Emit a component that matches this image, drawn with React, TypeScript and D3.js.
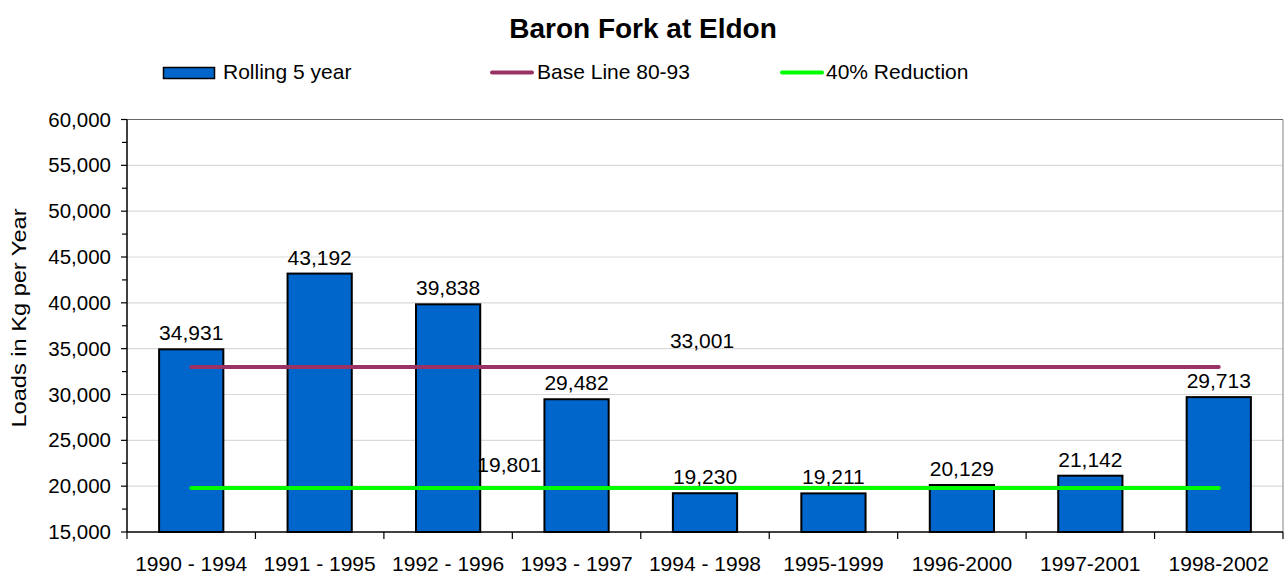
import { useMemo } from "react";
import * as d3 from "d3";

const WIDTH = 1288;
const HEIGHT = 578;
const MARGIN = { top: 119.5, right: 5, bottom: 46, left: 127 };

const categories = [
  "1990 - 1994",
  "1991 - 1995",
  "1992 - 1996",
  "1993 - 1997",
  "1994 - 1998",
  "1995-1999",
  "1996-2000",
  "1997-2001",
  "1998-2002",
];
const rollingValues = [34931, 43192, 39838, 29482, 19230, 19211, 20129, 21142, 29713];
const baseLineValues = [33001, 33001, 33001, 33001, 33001, 33001, 33001, 33001, 33001];
const reductionValues = [19801, 19801, 19801, 19801, 19801, 19801, 19801, 19801, 19801];
const yTicks = [15000, 20000, 25000, 30000, 35000, 40000, 45000, 50000, 55000, 60000];
const yMinorTicks = [17500, 22500, 27500, 32500, 37500, 42500, 47500, 52500, 57500];

const BAR_COLOR = "#0066CC";
const BASE_COLOR = "#993366";
const REDUCTION_COLOR = "#00FF00";
const FONT = "'Liberation Sans', Arial, sans-serif";

const fmt = d3.format(",");

export default function App() {
  const boundsWidth = WIDTH - MARGIN.left - MARGIN.right;
  const boundsHeight = HEIGHT - MARGIN.top - MARGIN.bottom;

  const xBand = useMemo(
    () => d3.scaleBand().domain(categories).range([0, boundsWidth]).padding(0),
    [boundsWidth]
  );
  // bars take half of each category, centred
  const xBars = useMemo(
    () =>
      d3
        .scaleBand()
        .domain(categories)
        .range([0, boundsWidth])
        .paddingInner(0.5)
        .paddingOuter(0.25),
    [boundsWidth]
  );
  const yScale = useMemo(
    () => d3.scaleLinear().domain([15000, 60000]).range([boundsHeight, 0]),
    [boundsHeight]
  );

  const cx = (i: number) => (xBand(categories[i]) ?? 0) + xBand.bandwidth() / 2;

  const lineGen = d3
    .line<number>()
    .x((_, i) => cx(i))
    .y((d) => yScale(d));

  const boundaries = categories.map((c) => xBand(c) ?? 0).concat([boundsWidth]);

  return (
    <svg
      width={WIDTH}
      height={HEIGHT}
      style={{ position: "absolute", left: 0, top: 0, background: "#fff" }}
      fontFamily={FONT}
    >
      <text
        x={643}
        y={38}
        textAnchor="middle"
        fontSize={28}
        fontWeight="bold"
        fill="#000"
      >
        Baron Fork at Eldon
      </text>

      {/* legend */}
      <g fontSize={21} fill="#000">
        <rect x={163.5} y={67.5} width={51} height={11} fill={BAR_COLOR} stroke="#000" strokeWidth={1.5} />
        <text x={223} y={79}>Rolling 5 year</text>
        <line x1={492} x2={532} y1={72.5} y2={72.5} stroke={BASE_COLOR} strokeWidth={4} strokeLinecap="round" />
        <text x={537} y={79}>Base Line 80-93</text>
        <line x1={782} x2={822} y1={72.5} y2={72.5} stroke={REDUCTION_COLOR} strokeWidth={4} strokeLinecap="round" />
        <text x={826} y={79}>40% Reduction</text>
      </g>

      <text
        transform={`translate(26,318) rotate(-90)`}
        textAnchor="middle"
        fontSize={20}
        textLength={219}
        lengthAdjust="spacingAndGlyphs"
        fill="#000"
      >
        Loads in Kg per Year
      </text>

      <g transform={`translate(${MARGIN.left},${MARGIN.top})`}>
        {/* gridlines */}
        {yTicks
          .filter((t) => t > 15000 && t < 60000)
          .map((t) => (
            <line
              key={"g" + t}
              x1={0}
              x2={boundsWidth}
              y1={yScale(t)}
              y2={yScale(t)}
              stroke="#d9d9d9"
              strokeWidth={1.2}
            />
          ))}
        {/* plot border top & right */}
        <line x1={0} x2={boundsWidth} y1={0} y2={0} stroke="#666" strokeWidth={1.2} />
        <line x1={boundsWidth} x2={boundsWidth} y1={0} y2={boundsHeight} stroke="#999" strokeWidth={1.2} />

        {/* bars */}
        {rollingValues.map((v, i) => (
          <g key={categories[i]}>
            <rect
              x={xBars(categories[i])}
              y={yScale(v)}
              width={xBars.bandwidth()}
              height={boundsHeight - yScale(v)}
              fill={BAR_COLOR}
              stroke="#000"
              strokeWidth={2}
            />
            <text
              x={cx(i)}
              y={yScale(v) - 9}
              textAnchor="middle"
              fontSize={21}
              fill="#000"
            >
              {fmt(v)}
            </text>
          </g>
        ))}

        {/* lines */}
        <path
          d={lineGen(baseLineValues) ?? ""}
          fill="none"
          stroke={BASE_COLOR}
          strokeWidth={4}
          strokeLinecap="round"
        />
        <path
          d={lineGen(reductionValues) ?? ""}
          fill="none"
          stroke={REDUCTION_COLOR}
          strokeWidth={4}
          strokeLinecap="round"
        />
        <text x={cx(4) - 3} y={yScale(baseLineValues[4]) - 19} textAnchor="middle" fontSize={21} fill="#000">
          {fmt(baseLineValues[4])}
        </text>
        <text x={cx(3) - 35} y={yScale(reductionValues[3]) - 16} textAnchor="end" fontSize={21} fill="#000">
          {fmt(reductionValues[3])}
        </text>

        {/* y axis */}
        <line x1={0} x2={0} y1={0} y2={boundsHeight} stroke="#000" strokeWidth={1.5} />
        {yTicks.map((t) => (
          <g key={"t" + t}>
            <line x1={-6} x2={0} y1={yScale(t)} y2={yScale(t)} stroke="#000" strokeWidth={1.2} />
            <text x={-16} y={yScale(t) + 7} textAnchor="end" fontSize={20.5} fill="#000">
              {fmt(t)}
            </text>
          </g>
        ))}
        {yMinorTicks.map((t) => (
          <line key={"m" + t} x1={-5} x2={0} y1={yScale(t)} y2={yScale(t)} stroke="#000" strokeWidth={1.2} />
        ))}

        {/* x axis */}
        <line x1={0} x2={boundsWidth} y1={boundsHeight} y2={boundsHeight} stroke="#000" strokeWidth={1.5} />
        {boundaries.map((b, i) => (
          <line key={"x" + i} x1={b} x2={b} y1={boundsHeight} y2={boundsHeight + 7} stroke="#000" strokeWidth={1.2} />
        ))}
        {categories.map((c, i) => (
          <text key={c} x={cx(i)} y={boundsHeight + 39} textAnchor="middle" fontSize={21} fill="#000">
            {c}
          </text>
        ))}
      </g>
    </svg>
  );
}
